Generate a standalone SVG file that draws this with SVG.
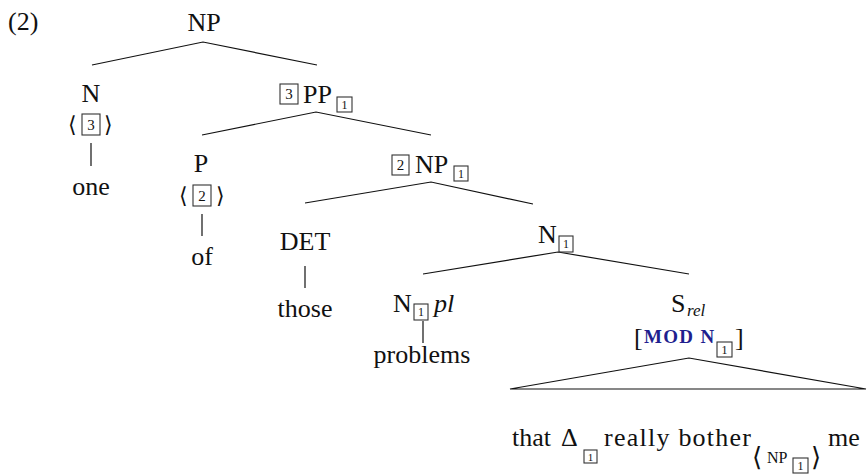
<svg xmlns="http://www.w3.org/2000/svg" width="867" height="474" viewBox="0 0 867 474" font-family="'Liberation Serif', Tinos, 'Times New Roman', 'DejaVu Serif', 'Noto Serif', serif">
<style>
text{font-family:"Liberation Serif",Tinos,"Times New Roman","DejaVu Serif","Noto Serif",serif;fill:#111;}
.t{font-size:26px;}
.m{text-anchor:middle;}
.it{font-style:italic;}
.bx{fill:none;stroke:#333;stroke-width:1.1;}
.bd{font-size:15px;text-anchor:middle;}
.sd{font-size:12px;text-anchor:middle;}
.sc{font-size:19px;font-weight:bold;fill:#1f1f8f;letter-spacing:1.3px;}
.ln{stroke:#111;stroke-width:1.2;fill:none;}
.ang{font-family:"DejaVu Serif","Liberation Serif",serif;}
</style>
<rect width="867" height="474" fill="#fff"/>
<text class="t" x="8" y="30">(2)</text>
<g id="connectors">
<polyline class="ln" points="92,65 203,42 317,65"/>
<polyline class="ln" points="202,135 316,112 431,135"/>
<polyline class="ln" points="305,203 431,182 533,204"/>
<polyline class="ln" points="423,274 558,252 689,274"/>
<line class="ln" x1="91" y1="143" x2="91" y2="166"/>
<line class="ln" x1="202" y1="214" x2="202" y2="236"/>
<line class="ln" x1="305" y1="266" x2="305" y2="288"/>
<line class="ln" x1="423" y1="321" x2="423" y2="343"/>
<polygon class="ln" points="689,358 510,389 866,389"/>
</g>
<g id="np-root"><text class="t m" x="204" y="31">NP</text></g>
<g id="n-one">
<text class="t m" x="91" y="102">N</text>
<text class="ang" x="68" y="132" style="font-size:22px">⟨</text>
<rect class="bx" x="82" y="114" width="18" height="21"/>
<text class="bd" x="91" y="130">3</text>
<text class="ang" x="104" y="132" style="font-size:22px">⟩</text>
<text class="t m" x="91" y="195">one</text>
</g>
<g id="pp">
<rect class="bx" x="280" y="84" width="18" height="20"/>
<text class="bd" x="289" y="99">3</text>
<text class="t" x="303" y="103">PP</text>
<rect class="bx" x="337" y="97" width="15" height="15"/>
<text class="sd" x="344.5" y="109">1</text>
</g>
<g id="p-of">
<text class="t m" x="201" y="172">P</text>
<text class="ang" x="179" y="203" style="font-size:22px">⟨</text>
<rect class="bx" x="193" y="185" width="18" height="21"/>
<text class="bd" x="202" y="201">2</text>
<text class="ang" x="216" y="203" style="font-size:22px">⟩</text>
<text class="t m" x="202" y="265">of</text>
</g>
<g id="np1">
<rect class="bx" x="392" y="155" width="17" height="20"/>
<text class="bd" x="400.5" y="170">2</text>
<text class="t" x="415" y="173">NP</text>
<rect class="bx" x="454" y="166" width="14" height="15"/>
<text class="sd" x="461" y="178">1</text>
</g>
<g id="det">
<text class="t m" x="305" y="250">DET</text>
<text class="t m" x="305" y="317">those</text>
</g>
<g id="n1">
<text class="t" x="538" y="243">N</text>
<rect class="bx" x="559" y="236" width="14" height="16"/>
<text class="sd" x="566" y="248">1</text>
</g>
<g id="n1-pl">
<text class="t" x="393" y="312">N</text>
<rect class="bx" x="414" y="304" width="14" height="16"/>
<text class="sd" x="421" y="316">1</text>
<text class="t it" x="434" y="312">pl</text>
<text class="t m" x="422" y="363">problems</text>
</g>
<g id="srel">
<text class="t" x="671" y="312">S</text>
<text class="it" x="687" y="316" style="font-size:17px">rel</text>
<text class="t" x="634" y="346">[</text>
<text class="sc" x="644" y="343">MOD N</text>
<rect class="bx" x="717" y="342" width="15" height="15"/>
<text class="sd" x="724.5" y="354">1</text>
<text class="t" x="735" y="346">]</text>
</g>
<g id="yield">
<text class="t" x="512" y="446">that</text>
<text class="t" x="561" y="446">Δ</text>
<rect class="bx" x="584" y="450" width="13" height="13"/>
<text class="sd" x="590.5" y="461" style="font-size:11px">1</text>
<text class="t" x="604" y="446" textLength="147" lengthAdjust="spacing">really bother</text>
<text class="ang" x="752" y="466" style="font-size:26px">⟨</text>
<text x="767" y="463" style="font-size:16px">NP</text>
<rect class="bx" x="793" y="458" width="15" height="15"/>
<text class="sd" x="800.5" y="470">1</text>
<text class="ang" x="811" y="466" style="font-size:26px">⟩</text>
<text class="t" x="828" y="446">me</text>
</g>
</svg>
